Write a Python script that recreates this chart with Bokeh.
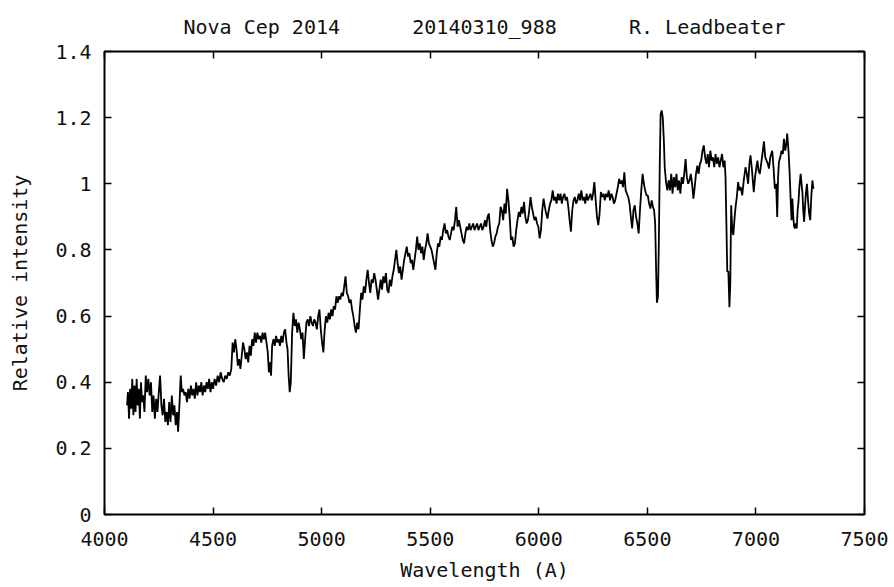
import numpy as np
from bokeh.plotting import figure
from bokeh.models import Range1d, LinearAxis, FixedTicker, CustomJSTickFormatter
from bokeh.embed import file_html
from bokeh.resources import INLINE

# ---------------- data ----------------
title_parts = ["Nova Cep 2014", "20140310_988", "R. Leadbeater"]
x_label = "Wavelength (A)"
y_label = "Relative intensity"
x_ticks = [4000, 4500, 5000, 5500, 6000, 6500, 7000, 7500]
y_ticks = [0, 0.2, 0.4, 0.6, 0.8, 1.0, 1.2, 1.4]

wl_a = [4104, 4108, 4113, 4118, 4123, 4128, 4133, 4138, 4143, 4148,
        4153, 4158, 4163, 4168, 4173, 4178, 4184, 4190, 4196, 4202,
        4208, 4214, 4220, 4226, 4232, 4238, 4244, 4250, 4256, 4262,
        4268, 4274, 4280, 4286, 4292, 4298, 4304, 4310, 4316, 4322,
        4328, 4334, 4339, 4345, 4351, 4356, 4362, 4368, 4374, 4380,
        4386, 4392, 4398, 4404, 4410, 4416, 4422, 4428, 4434, 4440,
        4446, 4452, 4458, 4464, 4470, 4476, 4482, 4488, 4494, 4500,
        4507, 4514, 4521, 4528, 4535, 4542, 4549, 4556, 4563, 4570,
        4577, 4584]
flux_a = [0.33, 0.37, 0.29, 0.38, 0.32, 0.41, 0.30, 0.39, 0.31, 0.41,
          0.33, 0.38, 0.29, 0.40, 0.34, 0.36, 0.31, 0.42, 0.37, 0.41,
          0.36, 0.40, 0.31, 0.36, 0.29, 0.35, 0.31, 0.37, 0.42, 0.33,
          0.30, 0.35, 0.28, 0.31, 0.27, 0.34, 0.28, 0.36, 0.30, 0.33,
          0.27, 0.31, 0.25, 0.33, 0.42, 0.37, 0.38, 0.36, 0.37, 0.34,
          0.38, 0.35, 0.39, 0.36, 0.38, 0.35, 0.40, 0.36, 0.39, 0.37,
          0.40, 0.36, 0.39, 0.37, 0.40, 0.38, 0.41, 0.37, 0.40, 0.38,
          0.41, 0.39, 0.42, 0.40, 0.43, 0.41, 0.40, 0.42, 0.41, 0.43,
          0.42, 0.44]

wl_b = [4590, 4596, 4602, 4608, 4614, 4620, 4626, 4632, 4638, 4644,
        4650, 4656, 4662, 4668, 4674, 4680, 4686, 4692, 4698, 4704,
        4710, 4716, 4722, 4728, 4734, 4740, 4746, 4752, 4757, 4762,
        4767, 4772, 4778, 4784, 4790, 4796, 4802, 4808, 4814, 4820,
        4826, 4832, 4838, 4843, 4848, 4853, 4858, 4864, 4870, 4876,
        4882, 4888, 4894, 4900, 4906, 4912, 4918, 4924, 4930, 4936,
        4942, 4948, 4954, 4960, 4966, 4972, 4978, 4984, 4990, 4996,
        5002, 5008, 5014, 5020, 5026, 5032, 5038, 5044, 5050, 5056,
        5062, 5068, 5074, 5080, 5086, 5092, 5098, 5104, 5110, 5116,
        5122, 5128, 5134, 5140, 5146, 5152, 5158, 5164, 5170, 5176]
flux_b = [0.52, 0.49, 0.53, 0.50, 0.45, 0.47, 0.44, 0.48, 0.52, 0.50,
          0.47, 0.49, 0.46, 0.51, 0.48, 0.53, 0.51, 0.55, 0.52, 0.55,
          0.53, 0.54, 0.52, 0.55, 0.53, 0.55, 0.52, 0.49, 0.43, 0.46,
          0.42, 0.51, 0.53, 0.51, 0.54, 0.52, 0.53, 0.51, 0.54, 0.52,
          0.55, 0.56, 0.52, 0.50, 0.42, 0.37, 0.40, 0.55, 0.61, 0.57,
          0.59, 0.55, 0.58, 0.56, 0.53, 0.55, 0.47, 0.53, 0.58, 0.59,
          0.57, 0.60, 0.58, 0.57, 0.59, 0.58, 0.56, 0.60, 0.62, 0.56,
          0.52, 0.49, 0.56, 0.60, 0.58, 0.61, 0.59, 0.62, 0.60, 0.63,
          0.62, 0.66, 0.64, 0.66, 0.65, 0.67, 0.66, 0.69, 0.72, 0.67,
          0.66, 0.64, 0.65, 0.62, 0.60, 0.57, 0.55, 0.58, 0.56, 0.62]

wl_c = [5182, 5188, 5194, 5200, 5206, 5212, 5218, 5224, 5230, 5236,
        5242, 5248, 5254, 5260, 5266, 5272, 5278, 5284, 5290, 5296,
        5302, 5308, 5314, 5320, 5326, 5332, 5338, 5344, 5350, 5356,
        5362, 5368, 5374, 5380, 5386, 5392, 5398, 5404, 5410, 5416,
        5422, 5428, 5434, 5440, 5446, 5452, 5458, 5464, 5470, 5476,
        5482, 5488, 5494, 5500, 5506, 5512, 5518, 5524, 5530, 5536,
        5542, 5548, 5554, 5560, 5566, 5572, 5578, 5584, 5590, 5596,
        5602, 5608, 5614, 5620, 5626, 5632, 5638, 5644, 5650, 5656,
        5662, 5668, 5674, 5680, 5686, 5692, 5698, 5704, 5710, 5716,
        5722, 5728, 5734, 5740, 5746, 5752, 5758, 5764, 5770, 5776]
flux_c = [0.67, 0.65, 0.69, 0.67, 0.71, 0.74, 0.70, 0.67, 0.71, 0.70,
          0.73, 0.71, 0.68, 0.65, 0.68, 0.71, 0.68, 0.72, 0.70, 0.73,
          0.68, 0.67, 0.71, 0.69, 0.72, 0.74, 0.77, 0.80, 0.76, 0.73,
          0.75, 0.71, 0.74, 0.77, 0.79, 0.81, 0.78, 0.79, 0.76, 0.77,
          0.74, 0.77, 0.80, 0.84, 0.80, 0.82, 0.79, 0.81, 0.77, 0.80,
          0.82, 0.85, 0.82, 0.81, 0.80, 0.78, 0.76, 0.74, 0.79, 0.82,
          0.81, 0.84, 0.83, 0.86, 0.88, 0.85, 0.86, 0.84, 0.83, 0.85,
          0.87, 0.86, 0.89, 0.93, 0.87, 0.89, 0.87, 0.85, 0.83, 0.82,
          0.85, 0.87, 0.86, 0.88, 0.86, 0.87, 0.88, 0.86, 0.87, 0.88,
          0.86, 0.87, 0.88, 0.86, 0.87, 0.89, 0.87, 0.90, 0.91, 0.86]

wl_d = [5782, 5788, 5794, 5800, 5806, 5812, 5818, 5824, 5830, 5836,
        5842, 5848, 5854, 5860, 5866, 5872, 5878, 5884, 5890, 5896,
        5902, 5908, 5914, 5920, 5926, 5932, 5938, 5944, 5950, 5956,
        5962, 5968, 5974, 5980, 5986, 5992, 5998, 6004, 6010, 6016,
        6022, 6028, 6034, 6040, 6046, 6052, 6058, 6064, 6070, 6076,
        6082, 6088, 6094, 6100, 6106, 6112, 6118, 6124, 6130, 6136,
        6142, 6148, 6154, 6160, 6166, 6172, 6178, 6184, 6190, 6196,
        6202, 6208, 6214, 6220, 6226, 6232, 6238, 6244, 6250, 6256,
        6262, 6268, 6274, 6280, 6286, 6292, 6298, 6304, 6310, 6316,
        6322, 6328, 6334, 6340, 6346, 6352, 6358, 6364, 6370, 6376]
flux_d = [0.83, 0.81, 0.82, 0.84, 0.85, 0.87, 0.88, 0.93, 0.92, 0.89,
          0.94, 0.91, 0.985, 0.95, 0.90, 0.83, 0.84, 0.81, 0.82, 0.86,
          0.89, 0.915, 0.90, 0.93, 0.91, 0.945, 0.90, 0.88, 0.89, 0.92,
          0.96, 0.93, 0.91, 0.89, 0.90, 0.88, 0.87, 0.835, 0.86, 0.92,
          0.955, 0.93, 0.91, 0.895, 0.92, 0.94, 0.95, 0.98, 0.95, 0.96,
          0.94, 0.97, 0.95, 0.97, 0.94, 0.96, 0.97, 0.95, 0.96, 0.93,
          0.89, 0.855, 0.92, 0.95, 0.96, 0.94, 0.95, 0.97, 0.95, 0.98,
          0.95, 0.96, 0.94, 0.97, 0.95, 0.96, 0.97, 0.95, 0.97, 1.005,
          0.95, 0.90, 0.875, 0.91, 0.975, 0.96, 0.97, 0.95, 0.97, 0.96,
          0.98, 0.95, 0.97, 0.96, 0.94, 0.95, 0.97, 0.99, 1.015, 1.00]

wl_e = [6382, 6388, 6394, 6400, 6406, 6412, 6418, 6424, 6430, 6436,
        6442, 6448, 6454, 6460, 6466, 6472, 6478, 6484, 6490, 6496,
        6502, 6508, 6514, 6520, 6526, 6531, 6536, 6540, 6544, 6549,
        6553, 6557, 6561, 6566, 6571, 6576, 6580, 6586, 6592, 6598,
        6604, 6610, 6616, 6622, 6628, 6634, 6640, 6646, 6652, 6658,
        6664, 6670, 6676, 6682, 6688, 6694, 6700, 6706, 6712, 6718,
        6724, 6730, 6736, 6742, 6748, 6754, 6760, 6766, 6772, 6778,
        6784, 6790, 6796, 6802, 6808, 6814, 6820, 6826, 6832, 6838,
        6844, 6850, 6856]
flux_e = [1.01, 0.99, 1.035, 0.98, 0.97, 0.96, 0.94, 0.90, 0.865, 0.92,
          0.935, 0.90, 0.88, 0.85, 0.92, 0.98, 1.03, 1.00, 0.98, 0.965,
          0.965, 0.94, 0.925, 0.95, 0.93, 0.92, 0.88, 0.75, 0.64, 0.66,
          0.83, 1.05, 1.21, 1.222, 1.20, 1.13, 1.05, 1.005, 0.98, 1.01,
          0.98, 1.03, 0.97, 1.02, 0.99, 1.03, 0.98, 1.01, 0.97, 1.02,
          1.00, 1.03, 1.075, 1.02, 1.00, 1.01, 1.03, 1.00, 0.955, 0.99,
          1.03, 1.055, 1.03, 1.06, 1.07, 1.10, 1.116, 1.08, 1.06, 1.09,
          1.05, 1.10, 1.07, 1.08, 1.05, 1.09, 1.06, 1.08, 1.05, 1.07,
          1.09, 1.05, 1.07]

wl_f = [6860, 6864, 6868, 6873, 6878, 6882, 6886, 6891, 6896, 6902,
        6907, 6912, 6918, 6924, 6930, 6937, 6944, 6952, 6958, 6964,
        6970, 6975, 6982, 6990, 6996, 7002, 7007, 7012, 7018, 7024,
        7030, 7037, 7043, 7049, 7055, 7060, 7066, 7075, 7081, 7087,
        7093, 7098, 7102, 7106, 7112, 7118, 7124, 7129, 7135, 7140,
        7144, 7150, 7155, 7160, 7164, 7168, 7172, 7176, 7180, 7184,
        7188, 7192, 7196, 7200, 7206, 7210, 7214, 7218, 7222, 7226,
        7230, 7235, 7240, 7245, 7250, 7255, 7260, 7265]
flux_f = [1.02, 0.88, 0.735, 0.735, 0.627, 0.70, 0.935, 0.86, 0.845, 0.90,
          0.935, 0.96, 1.005, 0.98, 0.99, 0.965, 1.01, 1.05, 1.03, 1.00,
          1.06, 1.086, 1.04, 0.975, 1.02, 1.05, 1.07, 1.04, 1.03, 1.06,
          1.09, 1.128, 1.08, 1.07, 1.06, 1.046, 1.08, 1.10, 1.05, 0.985,
          1.00, 0.90, 1.02, 1.066, 1.08, 1.10, 1.09, 1.136, 1.10, 1.12,
          1.152, 1.10, 1.036, 0.95, 0.89, 0.955, 0.90, 0.87, 0.865, 0.88,
          0.865, 0.92, 0.945, 0.99, 1.03, 1.00, 0.975, 0.92, 0.885, 0.93,
          0.97, 1.00, 0.95, 0.91, 0.89, 0.96, 1.01, 0.985]

wavelength = wl_a + wl_b + wl_c + wl_d + wl_e + wl_f
intensity = flux_a + flux_b + flux_c + flux_d + flux_e + flux_f
assert len(wavelength) == len(intensity)

# ---------------- figure ----------------
FONT = "DejaVu Sans Mono"
FS = "20px"
INK = "#111111"
NB = "\u00a0"

p = figure(width=894, height=587, output_backend="svg", toolbar_location=None,
           x_range=Range1d(x_ticks[0], x_ticks[-1]), y_range=Range1d(y_ticks[0], y_ticks[-1]),
           min_border_left=104, min_border_right=30, min_border_top=49, min_border_bottom=73,
           x_axis_label=x_label, y_axis_label=y_label)

p.title.text = (NB * 6).join(title_parts)
p.title.align = "center"
p.title.text_font = FONT
p.title.text_font_size = FS
p.title.text_font_style = "normal"
p.title.text_color = INK
p.title.standoff = 25

p.background_fill_color = "white"
p.border_fill_color = "white"
p.outline_line_color = "black"
p.outline_line_width = 2
p.xgrid.visible = False
p.ygrid.visible = False

def style_axis(ax, show_labels):
    ax.axis_line_color = None
    ax.major_tick_in = 7
    ax.major_tick_out = 0
    ax.minor_tick_in = 0
    ax.minor_tick_out = 0
    ax.major_tick_line_color = "black"
    ax.major_tick_line_width = 1.5
    ax.major_label_text_font = FONT
    ax.major_label_text_color = INK
    ax.axis_label_text_font = FONT
    ax.axis_label_text_font_size = FS
    ax.axis_label_text_font_style = "normal"
    ax.axis_label_text_color = INK
    if show_labels:
        ax.major_label_text_font_size = FS
    else:
        ax.major_label_text_font_size = "0px"
        ax.major_label_text_color = None
        ax.major_label_standoff = 0

xa = p.xaxis[0]
xa.ticker = FixedTicker(ticks=x_ticks)
style_axis(xa, True)
xa.major_label_standoff = 17
xa.axis_label_standoff = 9

ya = p.yaxis[0]
ya.ticker = FixedTicker(ticks=y_ticks)
ya.formatter = CustomJSTickFormatter(code="return (Math.round(tick*10)/10).toString();")
style_axis(ya, True)
ya.major_label_standoff = 13
ya.axis_label_standoff = 20

top_ax = LinearAxis(ticker=FixedTicker(ticks=x_ticks))
style_axis(top_ax, False)
p.add_layout(top_ax, "above")

right_ax = LinearAxis(ticker=FixedTicker(ticks=y_ticks))
style_axis(right_ax, False)
p.add_layout(right_ax, "right")

p.line(wavelength, intensity, line_color="black", line_width=1.8)

open("out.html", "w").write(file_html(p, INLINE))
